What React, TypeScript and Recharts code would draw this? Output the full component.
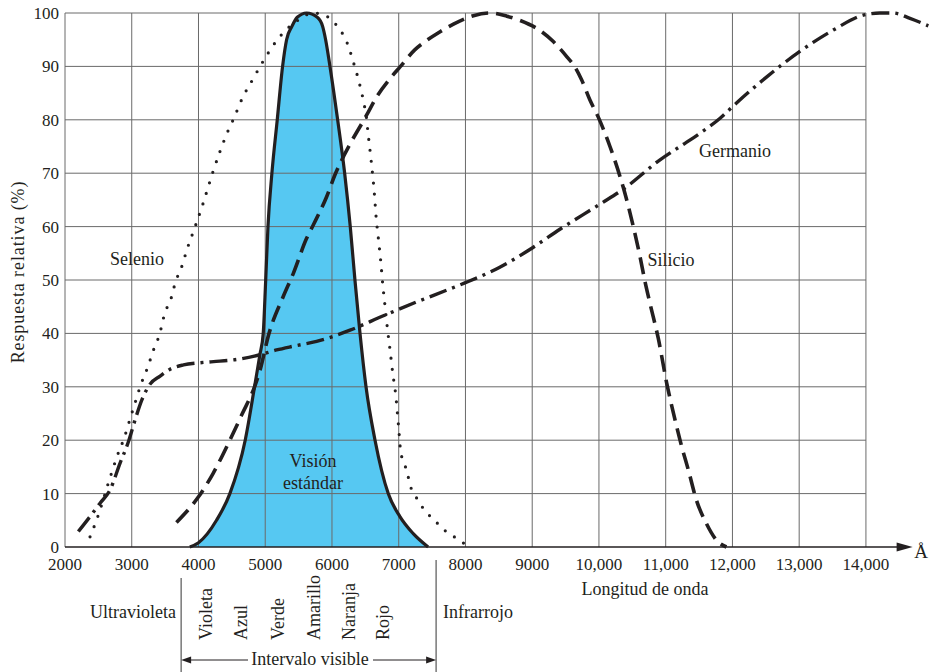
import React from "react";
import {
  ComposedChart,
  Area,
  Line,
  XAxis,
  YAxis,
  ReferenceLine,
  ReferenceDot,
} from "recharts";

// wavelength (Å) / relative response (%)
const VISION: [number, number][] = [
  [3870, 0], [4000, 0.8], [4270, 5], [4470, 10], [4700, 20], [4840, 30],
  [4920, 36], [4970, 40], [5007, 50], [5041, 60], [5100, 70], [5180, 80],
  [5260, 90], [5320, 95], [5400, 97.5], [5480, 99.2], [5620, 100], [5780, 99.2],
  [5860, 97.5], [5905, 95], [5970, 90], [6085, 80], [6190, 70], [6274, 60],
  [6344, 50], [6420, 40], [6510, 30], [6645, 20], [6843, 10], [7018, 5.7],
  [7218, 2.5], [7440, 0],
];

const SELENIO: [number, number][] = [
  [2375, 1.9], [2500, 6], [2650, 12], [2810, 18], [2875, 20], [2975, 24],
  [3075, 28], [3125, 30], [3185, 32], [3250, 34], [3300, 36], [3420, 40],
  [3500, 44], [3575, 46], [3665, 50], [3735, 52], [3835, 56], [3950, 60],
  [4060, 64], [4160, 68], [4210, 70], [4320, 74], [4445, 78], [4520, 80],
  [4655, 84], [4810, 87.5], [4980, 91.2], [5170, 94.8], [5270, 96.3],
  [5535, 99], [5700, 100], [5845, 99.8], [5995, 98.7], [6105, 97.1],
  [6195, 95.3], [6260, 93.3], [6310, 91.2], [6360, 89.2], [6405, 87.1],
  [6445, 85.1], [6480, 83], [6510, 81], [6545, 77], [6585, 72.6],
  [6635, 66.2], [6660, 62], [6695, 57.8], [6730, 53.6], [6760, 49.3],
  [6795, 45.1], [6830, 41], [6870, 36.9], [6910, 32.6], [6955, 28.5],
  [7000, 22.2], [7030, 17.8], [7080, 15.8], [7130, 13.8], [7170, 11.6],
  [7245, 9.7], [7330, 7.9], [7430, 6.3], [7560, 4.7], [7670, 3.3],
  [7810, 2.1], [7960, 0.8], [8080, 0],
];

const SILICIO: [number, number][] = [
  [3670, 4.6], [4000, 9.4], [4220, 13.8], [4470, 20], [4650, 24.8],
  [4840, 30], [4920, 33], [5050, 39.7], [5270, 46.9], [5420, 51.2],
  [5620, 57.8], [5720, 60.3], [5920, 65.6], [6045, 69.7], [6180, 73.3],
  [6520, 80.9], [6670, 84.3], [6895, 88.1], [7020, 89.9], [7240, 93.1],
  [7390, 94.6], [7620, 96.5], [7820, 97.9], [8120, 99.5], [8370, 100],
  [8620, 99.4], [8820, 98.6], [9070, 97.1], [9320, 94.6], [9520, 91.8],
  [9640, 89.9], [9740, 87.5], [9865, 83.7], [9990, 80.5], [10165, 75],
  [10315, 69.4], [10390, 66.2], [10515, 60], [10615, 54.4], [10690, 49.7],
  [10765, 45.6], [10890, 39], [11015, 30.7], [11140, 23.8], [11240, 18.8],
  [11340, 14.4], [11460, 8.8], [11610, 4.4], [11760, 1.3], [11910, 0],
];

const GERMANIO: [number, number][] = [
  [2200, 2.9], [2375, 5.7], [2525, 8.2], [2675, 10.7], [2825, 15.7],
  [2950, 19.7], [3050, 23.8], [3150, 27.5], [3275, 30.5], [3425, 32],
  [3575, 33.3], [3775, 34.1], [4020, 34.5], [4320, 34.8], [4620, 35.2],
  [4920, 36], [5170, 36.9], [5420, 37.6], [5770, 38.5], [6270, 40.6],
  [6770, 43.3], [7270, 45.9], [7720, 48.1], [8000, 49.5], [8500, 52.3],
  [9000, 56], [9415, 59.5], [10015, 64.2], [10365, 67], [10915, 72.5],
  [11215, 75], [11515, 77.5], [11815, 80.3], [12065, 83.2], [12510, 88],
  [13010, 92.8], [13510, 96.8], [13960, 99.6], [14210, 100], [14410, 100],
  [14660, 99], [14935, 97.6],
];

const X_TICKS = [2000, 3000, 4000, 5000, 6000, 7000, 8000, 9000, 10000, 11000, 12000, 13000, 14000];
const Y_TICKS = [0, 10, 20, 30, 40, 50, 60, 70, 80, 90, 100];
const COLOR_BANDS = ["Violeta", "Azul", "Verde", "Amarillo", "Naranja", "Rojo"];
const COLOR_BAND_X = [212, 247, 284, 320, 355, 389];

const X_MIN = 2000;
const X_MAX = 14960;
const X_GRID_END = 14000;
const X_ARROW = 14700;

const W = 930;
const H = 672;
const PLOT_LEFT = 65;
const PLOT_TOP = 13;

const SERIF = '"Liberation Serif", "DejaVu Serif", serif';
const INK = "#231f20";
const GRID = "#6a6a6a";
const BLUE = "#56c8f2";

const toPoints = (pairs: [number, number][]) => pairs.map(([x, y]) => ({ x, y }));

const fmtTick = (v: number) => (v >= 10000 ? v.toLocaleString("en-US") : String(v));

const px = (x: number) => PLOT_LEFT + ((x - X_MIN) / (X_MAX - X_MIN)) * (W - PLOT_LEFT);

function Arrowhead(props: any) {
  const { cx, cy } = props;
  return <polygon points={`${cx},${cy} ${cx - 16},${cy - 4.5} ${cx - 16},${cy + 4.5}`} fill={INK} />;
}

function Overlay() {
  const t = { fontFamily: SERIF, fill: INK } as const;
  const left = px(3740);
  const right = px(7560);
  return (
    <svg width={W} height={H} style={{ position: "absolute", left: 0, top: 0, pointerEvents: "none" }}>
      <text
        x={18}
        y={272}
        transform="rotate(-90 18 272)"
        textAnchor="middle"
        dominantBaseline="central"
        fontSize={18}
        letterSpacing={0.9}
        {...t}
      >
        Respuesta relativa (%)
      </text>
      <text x={137} y={265} textAnchor="middle" fontSize={18} {...t}>Selenio</text>
      <text x={735} y={157} textAnchor="middle" fontSize={18} {...t}>Germanio</text>
      <text x={671} y={266} textAnchor="middle" fontSize={18} {...t}>Silicio</text>
      <text x={313} y={467} textAnchor="middle" fontSize={18} {...t}>Visión</text>
      <text x={313} y={489} textAnchor="middle" fontSize={18} {...t}>estándar</text>
      <text x={645} y={595} textAnchor="middle" fontSize={18} {...t}>Longitud de onda</text>
      <text x={921} y={558} textAnchor="middle" fontSize={19} {...t}>Å</text>

      <text x={176} y={618} textAnchor="end" fontSize={18} {...t}>Ultravioleta</text>
      <text x={443} y={618} textAnchor="start" fontSize={18} {...t}>Infrarrojo</text>
      <line x1={left} y1={578} x2={left} y2={H} stroke="#555" strokeWidth={1.2} />
      <line x1={right} y1={560} x2={right} y2={H} stroke="#555" strokeWidth={1.2} />
      {COLOR_BANDS.map((name, i) => (
        <text
          key={name}
          x={COLOR_BAND_X[i]}
          y={640}
          transform={`rotate(-90 ${COLOR_BAND_X[i]} 640)`}
          textAnchor="start"
          fontSize={18}
          {...t}
        >
          {name}
        </text>
      ))}
      <text x={310} y={665} textAnchor="middle" fontSize={18} {...t}>Intervalo visible</text>
      <line x1={left + 8} y1={660} x2={248} y2={660} stroke={INK} strokeWidth={1} />
      <polygon points={`${left},660 ${left + 10},656.5 ${left + 10},663.5`} fill={INK} />
      <line x1={373} y1={660} x2={right - 8} y2={660} stroke={INK} strokeWidth={1} />
      <polygon points={`${right},660 ${right - 10},656.5 ${right - 10},663.5`} fill={INK} />
    </svg>
  );
}

export default function App() {
  return (
    <div style={{ position: "absolute", left: 0, top: 0, width: W, height: H, background: "#fff" }}>
      <ComposedChart width={W} height={H} margin={{ top: PLOT_TOP, right: 0, left: 0, bottom: 95 }}>
        <XAxis
          dataKey="x"
          type="number"
          domain={[X_MIN, X_MAX]}
          ticks={X_TICKS}
          interval={0}
          tickFormatter={fmtTick}
          axisLine={false}
          tickLine={false}
          tickSize={6}
          tickMargin={5}
          height={30}
          tick={{ fontSize: 17, fill: INK, fontFamily: SERIF }}
        />
        <YAxis
          type="number"
          domain={[0, 100]}
          ticks={Y_TICKS}
          interval={0}
          axisLine={false}
          tickLine={false}
          tickSize={4}
          tickMargin={2}
          width={PLOT_LEFT}
          tick={{ fontSize: 17, fill: INK, fontFamily: SERIF }}
        />

        <Area
          data={toPoints(VISION)}
          dataKey="y"
          type="monotone"
          fill={BLUE}
          fillOpacity={1}
          stroke="none"
          isAnimationActive={false}
          dot={false}
          activeDot={false}
        />

        {X_TICKS.map((x) => (
          <ReferenceLine key={`vx${x}`} x={x} stroke={GRID} strokeWidth={1} />
        ))}
        {Y_TICKS.filter((y) => y > 0).map((y) => (
          <ReferenceLine
            key={`hy${y}`}
            segment={[{ x: X_MIN, y }, { x: X_GRID_END, y }]}
            stroke={GRID}
            strokeWidth={1}
          />
        ))}
        <ReferenceLine segment={[{ x: X_MIN, y: 0 }, { x: X_ARROW - 200, y: 0 }]} stroke={INK} strokeWidth={1.6} />
        <ReferenceDot x={X_ARROW} y={0} r={0} shape={Arrowhead} />

        <Line
          data={toPoints(VISION)}
          dataKey="y"
          type="monotone"
          stroke={INK}
          strokeWidth={3.2}
          dot={false}
          activeDot={false}
          isAnimationActive={false}
        />
        <Line
          data={toPoints(SELENIO)}
          dataKey="y"
          type="monotone"
          stroke={INK}
          strokeWidth={3.2}
          strokeDasharray="0 11"
          strokeLinecap="round"
          dot={false}
          activeDot={false}
          isAnimationActive={false}
        />
        <Line
          data={toPoints(SILICIO)}
          dataKey="y"
          type="monotone"
          stroke={INK}
          strokeWidth={3.6}
          strokeDasharray="17 8"
          dot={false}
          activeDot={false}
          isAnimationActive={false}
        />
        <Line
          data={toPoints(GERMANIO)}
          dataKey="y"
          type="monotone"
          stroke={INK}
          strokeWidth={3.4}
          strokeDasharray="18 6 3 6"
          dot={false}
          activeDot={false}
          isAnimationActive={false}
        />
      </ComposedChart>
      <Overlay />
    </div>
  );
}
